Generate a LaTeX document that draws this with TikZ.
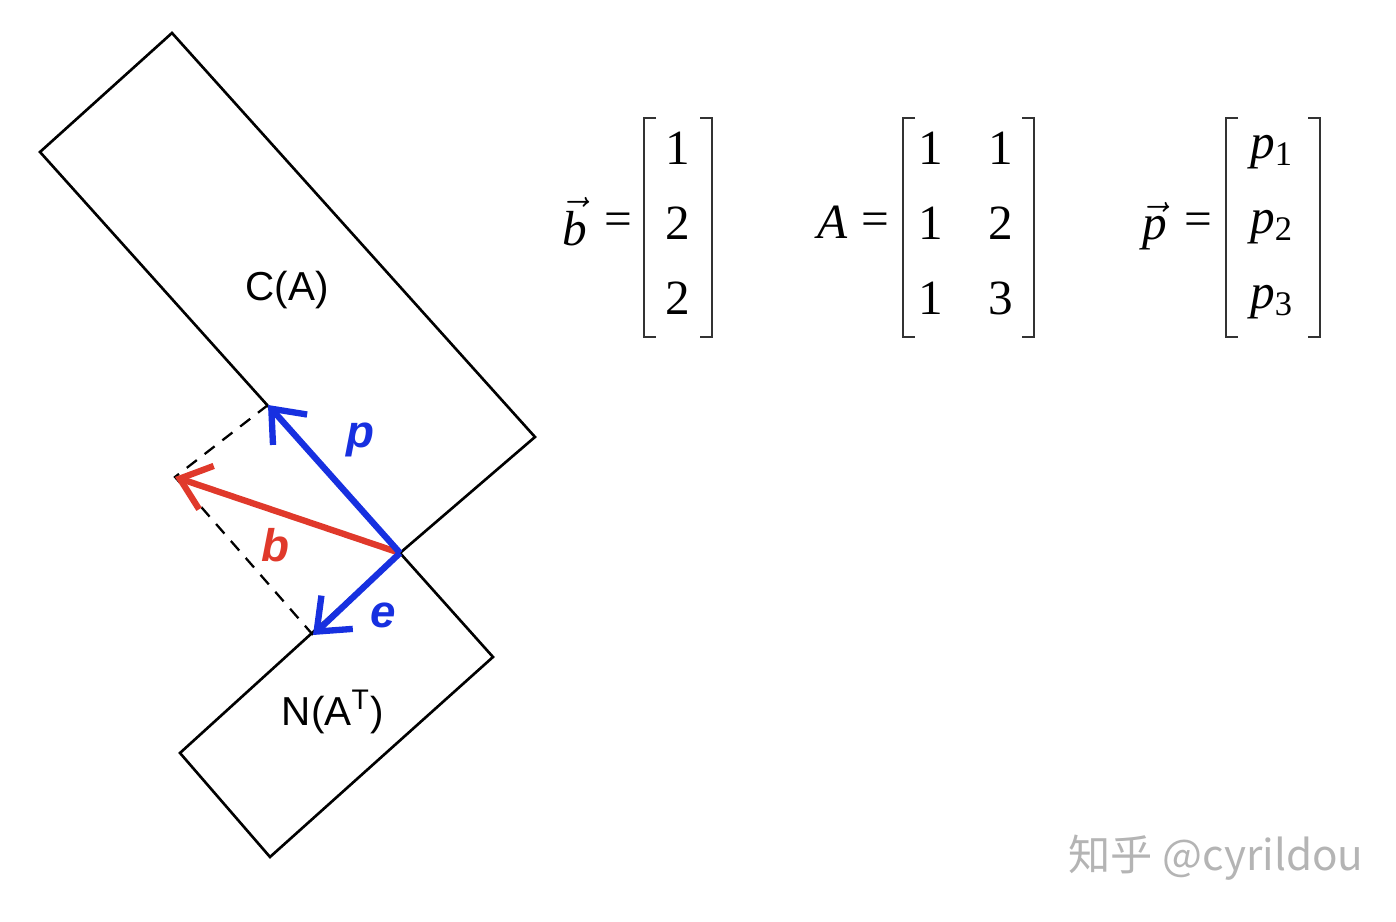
\documentclass[tikz,border=0pt]{standalone}
\usepackage{fontspec}
\setmainfont{Liberation Sans}
\newfontfamily\tnr{Liberation Serif}
\newfontfamily\cjk{Noto Sans CJK SC}
\usetikzlibrary{arrows.meta}
\definecolor{vecblue}{HTML}{1730E0}
\definecolor{vecred}{HTML}{E0392B}
\definecolor{markgray}{HTML}{B4B4B4}

\begin{document}
\begin{tikzpicture}[x=0.01cm, y=-0.01cm, line width=0.75pt,
  vec/.style={line width=1.8pt, -{Straight Barb[length=8pt, width=13pt, line width=1.8pt]}},
  proj/.style={dash pattern=on 3.6pt off 2.8pt, line width=0.65pt},
  space/.style={font=\fontsize{11.5}{12}\selectfont},
  veclab/.style={font=\fontsize{13}{14}\selectfont\bfseries\itshape},
  entry/.style={font=\fontsize{14}{15}\selectfont\tnr, inner sep=0pt},
  brk/.style={line width=0.75pt, black!80}]

\useasboundingbox (0,0) rectangle (1396,922);

% the two subspaces
\draw (172,33) -- (535,437) -- (400,553) -- (40,152) -- cycle;
\draw (400,553) -- (493,657) -- (270,857) -- (180,753) -- cycle;
\node[space] (col) at (287,290) {C(A)};
\node[space] (nul) at (333,712) {N(A\textsuperscript{T})};

% b, its projection p and the error e
\coordinate (O) at (400,553);
\coordinate (P) at (268,405);
\coordinate (B) at (175,477);
\coordinate (E) at (313,635);
\draw[proj] (P) -- (B) -- (E);
\draw[vec, vecred] (O) -- (B);
\draw[vec, vecblue] (O) -- (P);
\draw[vec, vecblue] (O) -- (E);
\node[veclab, text=vecblue] (plab) at (360,440) {p};
\node[veclab, text=vecred] (blab) at (275,545) {b};
\node[veclab, text=vecblue] (elab) at (383,615) {e};

% brackets: left edge, right edge
\def\brackets#1#2{
  \draw[brk] (#1+12,118) -| (#1,337) -- (#1+12,337);
  \draw[brk] (#2-12,118) -| (#2,337) -- (#2-12,337);
}

% b vector
\node[entry] (bname) at (575,222) {$\vec{\mbox{\tnr\itshape b}}$};
\node[entry] (beq) at (618,224) {=};
\brackets{644}{712}
\foreach \v [count=\k] in {1,2,2}
  \node[entry] (b\k) at (678,{148+75*(\k-1)}) {\v};

% matrix A
\node[entry] (aname) at (833,222) {\itshape A};
\node[entry] (aeq) at (875,224) {=};
\brackets{903}{1034}
\foreach \u/\w [count=\k] in {1/1,1/2,1/3}{
  \node[entry] (a\k1) at (931,{148+75*(\k-1)}) {\u};
  \node[entry] (a\k2) at (1001,{148+75*(\k-1)}) {\w};
}

% p vector
\node[entry] (pname) at (1155,226) {$\vec{\mbox{\tnr\itshape p}}$};
\node[entry] (peq) at (1198,224) {=};
\brackets{1226}{1320}
\foreach \k in {1,2,3}
  \node[entry] (p\k) at (1272,{152+75*(\k-1)}) {\itshape p\textsubscript{\upshape\k}};

\node[font=\cjk\fontsize{12}{13}\selectfont, text=markgray] (mark) at (1216,858) {知乎 @cyrildou};

\end{tikzpicture}
\end{document}
